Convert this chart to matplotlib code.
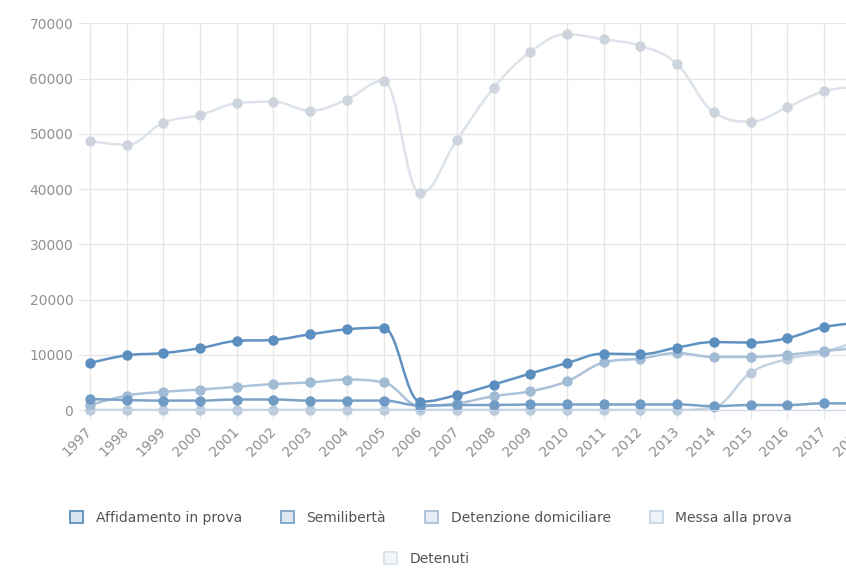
import matplotlib.pyplot as plt
from matplotlib.path import Path
from matplotlib.patches import PathPatch, Patch
import numpy as np

anni = list(range(1997, 2019))
affidamento = [8500, 9900, 10300, 11200, 12500, 12700, 13700, 14600, 14900, 1500, 2700,
               4600, 6600, 8500, 10200, 10100, 11300, 12300, 12200, 13000, 15000, 15800]
semiliberta = [2000, 1800, 1700, 1700, 1900, 1900, 1700, 1700, 1700, 800, 900,
               900, 1000, 1000, 1000, 1000, 1000, 700, 900, 900, 1200, 1200]
detenzione = [900, 2600, 3300, 3700, 4200, 4700, 5000, 5500, 5000, 700, 1200,
              2500, 3400, 5200, 8600, 9300, 10300, 9600, 9600, 10000, 10700, 11200]
messa = [0, 0, 0, 0, 0, 0, 0, 0, 0, 0, 0,
         0, 0, 0, 0, 0, 0, 500, 6700, 9200, 10500, 12700]
detenuti = [48700, 48000, 52000, 53400, 55500, 55800, 54200, 56200, 59600, 39200, 48900,
            58300, 64800, 68000, 67100, 65900, 62600, 53900, 52200, 54800, 57700, 58500]

nomi = ["Affidamento in prova", "Semilibertà", "Detenzione domiciliare",
        "Messa alla prova", "Detenuti"]
serie = [affidamento, semiliberta, detenzione, messa, detenuti]
colori = ["#5b8fc0", "#6f9bc5", "#a2bbd5", "#bccbdc", "#cdd4dd"]
colori_linea = ["#5f92c2", "#7aa2c9", "#abc2d9", "#c6d3e1", "#dde3ea"]
bordi = ["#5b8fc0", "#7ba4cb", "#a9c0d8", "#c8d6e5", "#dbe3ec"]
riempimenti = ["#d8e5f1", "#dde8f2", "#e6edf5", "#eef3f8", "#f3f6f9"]


def spline_path(x, y, smoothing=1.5):
    # curva morbida tipo "spline" tra i punti (stessa regola di Highcharts)
    x = np.asarray(x, float)
    y = np.asarray(y, float)
    n = len(x)
    lc = [(x[0], y[0])] * n
    rc = [(x[0], y[0])] * n
    den = smoothing + 1
    for i in range(1, n - 1):
        lx = (smoothing * x[i] + x[i - 1]) / den
        ly = (smoothing * y[i] + y[i - 1]) / den
        rx = (smoothing * x[i] + x[i + 1]) / den
        ry = (smoothing * y[i] + y[i + 1]) / den
        corr = (ry - ly) * (rx - x[i]) / (rx - lx) + y[i] - ry
        ly += corr
        ry += corr
        if ly > y[i - 1] and ly > y[i]:
            ly = max(y[i - 1], y[i]); ry = 2 * y[i] - ly
        elif ly < y[i - 1] and ly < y[i]:
            ly = min(y[i - 1], y[i]); ry = 2 * y[i] - ly
        if ry > y[i + 1] and ry > y[i]:
            ry = max(y[i + 1], y[i]); ly = 2 * y[i] - ry
        elif ry < y[i + 1] and ry < y[i]:
            ry = min(y[i + 1], y[i]); ly = 2 * y[i] - ry
        lc[i] = (lx, ly)
        rc[i] = (rx, ry)
    verts = [(x[0], y[0])]
    codes = [Path.MOVETO]
    for i in range(1, n):
        a = rc[i - 1] if i - 1 > 0 else (x[i - 1], y[i - 1])
        b = lc[i] if i < n - 1 else (x[i], y[i])
        verts += [a, b, (x[i], y[i])]
        codes += [Path.CURVE4] * 3
    return Path(verts, codes)


fig = plt.figure(figsize=(8.46, 5.69), dpi=100)
ax = fig.add_axes([90 / 846, 159 / 569, 770.6 / 846, 386.7 / 569])

ax.set_xlim(1997, 2018)
ax.set_ylim(0, 70000)
ax.set_xticks(anni)
ax.set_xticklabels([str(a) for a in anni], rotation=45, ha="right", va="center",
                   rotation_mode="anchor")
ax.set_yticks(range(0, 70001, 10000))
ax.grid(True, color="#e6e6e6", linewidth=1)
ax.set_axisbelow(True)
for s in ["top", "right", "left"]:
    ax.spines[s].set_visible(False)
ax.spines["bottom"].set_color("#ccd6eb")
ax.tick_params(axis="y", colors="#e6e6e6", labelcolor="#909090", length=9, labelsize=10, pad=3)
ax.tick_params(axis="x", colors="#e6e6e6", labelcolor="#909090", length=7, labelsize=10, pad=7)

# disegno dalle serie più chiare a quelle più scure
for nome, vals, col, lcol in reversed(list(zip(nomi, serie, colori, colori_linea))):
    ax.add_patch(PathPatch(spline_path(anni, vals), facecolor="none", edgecolor=lcol,
                           linewidth=1.8, clip_on=True))
    ax.plot(anni, vals, linestyle="none", marker="o", markersize=7.5, color=col,
            markeredgewidth=0, clip_on=False)

handles = [Patch(facecolor=f, edgecolor=b, linewidth=1.3) for f, b in zip(riempimenti, bordi)]
kw = dict(frameon=False, handlelength=0.95, handleheight=0.95, handletextpad=0.9,
          fontsize=10, labelcolor="#555555")
leg1 = fig.legend(handles[:4], nomi[:4], loc="center", bbox_to_anchor=(431 / 846, 1 - 518 / 569),
                  ncol=4, columnspacing=2.8, **kw)
leg2 = fig.legend(handles[4:], nomi[4:], loc="center", bbox_to_anchor=(427 / 846, 1 - 559 / 569), **kw)

plt.savefig("out.png", dpi=100)
plt.close()
